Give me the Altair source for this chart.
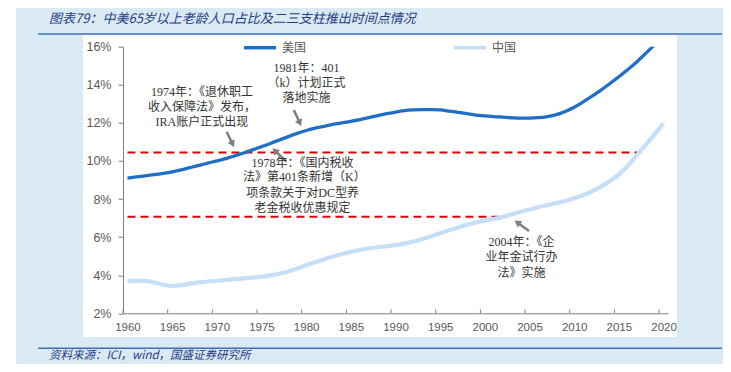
import altair as alt
import pandas as pd

# ---------------- data ----------------
years = list(range(1960, 2021))
us_share = [9.10, 9.16, 9.22, 9.28, 9.35, 9.43, 9.53, 9.65, 9.77, 9.89,
            10.00, 10.12, 10.27, 10.42, 10.58, 10.75, 10.92, 11.10, 11.28, 11.45,
            11.60, 11.72, 11.82, 11.92, 12.00, 12.08, 12.17, 12.27, 12.38, 12.48,
            12.57, 12.64, 12.68, 12.70, 12.70, 12.68, 12.62, 12.55, 12.48, 12.41,
            12.37, 12.33, 12.30, 12.27, 12.25, 12.25, 12.27, 12.33, 12.43, 12.60,
            12.82, 13.10, 13.40, 13.72, 14.07, 14.42, 14.80, 15.20, 15.65, 16.10,
            16.55]
cn_share = [3.70, 3.72, 3.70, 3.62, 3.50, 3.43, 3.48, 3.56, 3.62, 3.67,
            3.71, 3.75, 3.79, 3.83, 3.87, 3.92, 3.99, 4.08, 4.20, 4.35,
            4.53, 4.68, 4.84, 4.98, 5.11, 5.23, 5.33, 5.41, 5.47, 5.52,
            5.58, 5.66, 5.77, 5.90, 6.04, 6.20, 6.36, 6.51, 6.65, 6.77,
            6.87, 6.96, 7.06, 7.20, 7.33, 7.45, 7.57, 7.68, 7.79, 7.90,
            8.04, 8.20, 8.40, 8.65, 8.95, 9.30, 9.75, 10.30, 10.85, 11.40,
            11.97]
series_names = ["美国", "中国"]
series_colors = ["#1f6fc6", "#c6dff6"]
series_widths = [3.3, 4.2]

ref_level = [10.45, 7.07]
ref_start = [1960, 1960]
ref_end = [2017.5, 2002.2]

x_label_years = list(range(1960, 2021, 5))
x_tick_years = [y - 0.5 for y in x_label_years]
y_tick_values = [2, 4, 6, 8, 10, 12, 14, 16]

ann_text = ["1974年：《退休职工", "收入保障法》发布，", "IRA账户正式出现",
            "1981年：401", "（k）计划正式", "落地实施",
            "1978年：《国内税收", "法》第401条新增（K）", "项条款关于对DC型养", "老金税收优惠规定",
            "2004年：《企", "业年金试行办", "法》实施"]
ann_x = [1968.33, 1968.33, 1968.33,
         1980.04, 1980.04, 1980.04,
         1979.6, 1979.8, 1979.6, 1979.6,
         2004.09, 2004.09, 2004.09]
ann_y = [13.60, 12.81, 12.06,
         14.89, 14.07, 13.29,
         9.91, 9.14, 8.30, 7.51,
         5.76, 4.94, 4.13]

arrow_x = [1971.10, 1978.62, 1977.81, 2004.94]
arrow_y = [11.53, 12.67, 9.96, 6.32]
arrow_x2 = [1971.95, 1979.49, 1976.13, 2003.27]
arrow_y2 = [10.71, 11.80, 10.71, 6.90]
arrow_angle = [154, 155, 314, 306]

title_text = "图表79：中美65岁以上老龄人口占比及二三支柱推出时间点情况"
source_text = "资料来源：ICI，wind，国盛证券研究所"

# ---------------- tables ----------------
df_lines = pd.DataFrame({
    "year": years * 2,
    "value": us_share + cn_share,
    "series": [series_names[0]] * len(years) + [series_names[1]] * len(years),
})
df_ref = pd.DataFrame({"year": ref_start, "end": ref_end, "value": ref_level})
df_ticks = pd.DataFrame({"year": x_tick_years, "value": [2.0] * len(x_tick_years),
                         "hi": [2.21] * len(x_tick_years)})
df_ann = pd.DataFrame({"text": ann_text, "year": ann_x, "value": ann_y})
back = 0.22
df_arrow = pd.DataFrame({
    "year": arrow_x, "value": arrow_y,
    "hx": [h - back * (h - t) for t, h in zip(arrow_x, arrow_x2)],
    "hy": [h - back * (h - t) for t, h in zip(arrow_y, arrow_y2)],
    "angle": arrow_angle,
})

AXIS_GRAY = "#808080"
LABEL_GRAY = "#595959"
NAVY = "#1f3c88"
RULE_BLUE = "#3f6fba"
CJK = "Noto Sans CJK SC"
SERIF_CJK = "Liberation Serif, Noto Sans CJK SC"

xscale = alt.Scale(domain=[1959.5, 2020.5], nice=False, zero=False)
yscale = alt.Scale(domain=[2, 16], nice=False, zero=False)
xaxis = alt.Axis(values=x_label_years, format="d", title=None, ticks=False,
                 grid=False, domainColor=AXIS_GRAY, labelColor=LABEL_GRAY,
                 labelFont="Liberation Sans", labelFontSize=11.5,
                 labelPadding=8, labelFlush=False, zindex=1)
yaxis = alt.Axis(values=y_tick_values, labelExpr="datum.value + '%'",
                 title=None, grid=False, tickSize=5, tickColor=AXIS_GRAY,
                 domainColor=AXIS_GRAY, labelColor=LABEL_GRAY,
                 labelFont="Liberation Sans", labelFontSize=12.5,
                 labelPadding=7, zindex=1)
X = alt.X("year:Q", scale=xscale, axis=xaxis)
Y = alt.Y("value:Q", scale=yscale, axis=yaxis)
color_scale = alt.Scale(domain=series_names, range=series_colors)
legend = alt.Legend(title=None, orient="none", legendX=119, legendY=-17,
                    direction="horizontal", symbolType="stroke",
                    symbolSize=1024, symbolStrokeWidth=3.5,
                    labelFont=CJK, labelFontSize=12,
                    labelColor=LABEL_GRAY, labelOffset=4,
                    columnPadding=140, padding=0)

one = alt.Data(values=[{"k": 0}])

# ---------------- decoration ----------------
left_strip = alt.Chart(one).mark_rect(color="white").encode(
    x=alt.value(-115), x2=alt.value(-107), y=alt.value(-40), y2=alt.value(320))
panel = alt.Chart(one).mark_rect(color="white").encode(
    x=alt.value(-40), x2=alt.value(554), y=alt.value(-11.7), y2=alt.value(290.3))
title_rule = alt.Chart(one).mark_rule(color=RULE_BLUE, strokeWidth=1.5).encode(
    x=alt.value(-85), x2=alt.value(599), y=alt.value(-12.7))
foot_rule = alt.Chart(one).mark_rule(color=RULE_BLUE, strokeWidth=1.5).encode(
    x=alt.value(-85), x2=alt.value(599), y=alt.value(301.5))
title = alt.Chart(one).mark_text(text=title_text, align="left", baseline="middle",
                                 font=CJK, fontStyle="italic", fontSize=13,
                                 color=NAVY).encode(x=alt.value(-74), y=alt.value(-27.5))
footer = alt.Chart(one).mark_text(text=source_text, align="left", baseline="middle",
                                  font=CJK, fontStyle="italic", fontSize=11.5,
                                  color=NAVY).encode(x=alt.value(-74), y=alt.value(309.5))

# ---------------- chart layers ----------------
ticks = alt.Chart(df_ticks).mark_rule(color=AXIS_GRAY, strokeWidth=1).encode(
    x=X, y=Y, y2="hi:Q")

refs = alt.Chart(df_ref).mark_rule(color="#e00000", strokeWidth=2,
                                   strokeDash=[8, 5]).encode(
    x=X, x2="end:Q", y=Y)

line_layers = []
for name, w in zip(series_names, series_widths):
    line_layers.append(
        alt.Chart(df_lines).transform_filter(alt.datum.series == name)
        .mark_line(clip=True, interpolate="monotone", strokeWidth=w)
        .encode(x=X, y=Y,
                color=alt.Color("series:N", scale=color_scale, legend=legend),
                order=alt.Order("year:Q"))
    )

arrow_shaft = alt.Chart(df_arrow).mark_rule(color="#7f7f7f", strokeWidth=2.5).encode(
    x=X, x2="hx:Q", y=Y, y2="hy:Q")
arrow_head = alt.Chart(df_arrow).mark_point(shape="triangle-up", filled=True,
                                            color="#7f7f7f", size=60, opacity=1).encode(
    x=alt.X("hx:Q", scale=xscale, axis=xaxis),
    y=alt.Y("hy:Q", scale=yscale, axis=yaxis),
    angle=alt.Angle("angle:Q", scale=None),
)

ann = alt.Chart(df_ann).mark_text(font=SERIF_CJK, fontSize=12, color="#333333",
                                  align="center", baseline="middle").encode(
    x=X, y=Y, text="text:N")

chart = alt.layer(
    left_strip, panel, title_rule, foot_rule, title, footer,
    ticks, refs, line_layers[1], line_layers[0], arrow_shaft, arrow_head, ann,
).properties(
    width=545, height=266.6,
    padding={"left": 115, "top": 38.7, "right": 55, "bottom": 50.7},
    autosize=alt.AutoSizeParams(type="none"),
).configure(
    background="#daeaf4",
).configure_view(
    stroke=None,
).configure_axis(
    zindex=1,
)

chart.save("out.html", embed_options={"renderer": "svg", "actions": False})
